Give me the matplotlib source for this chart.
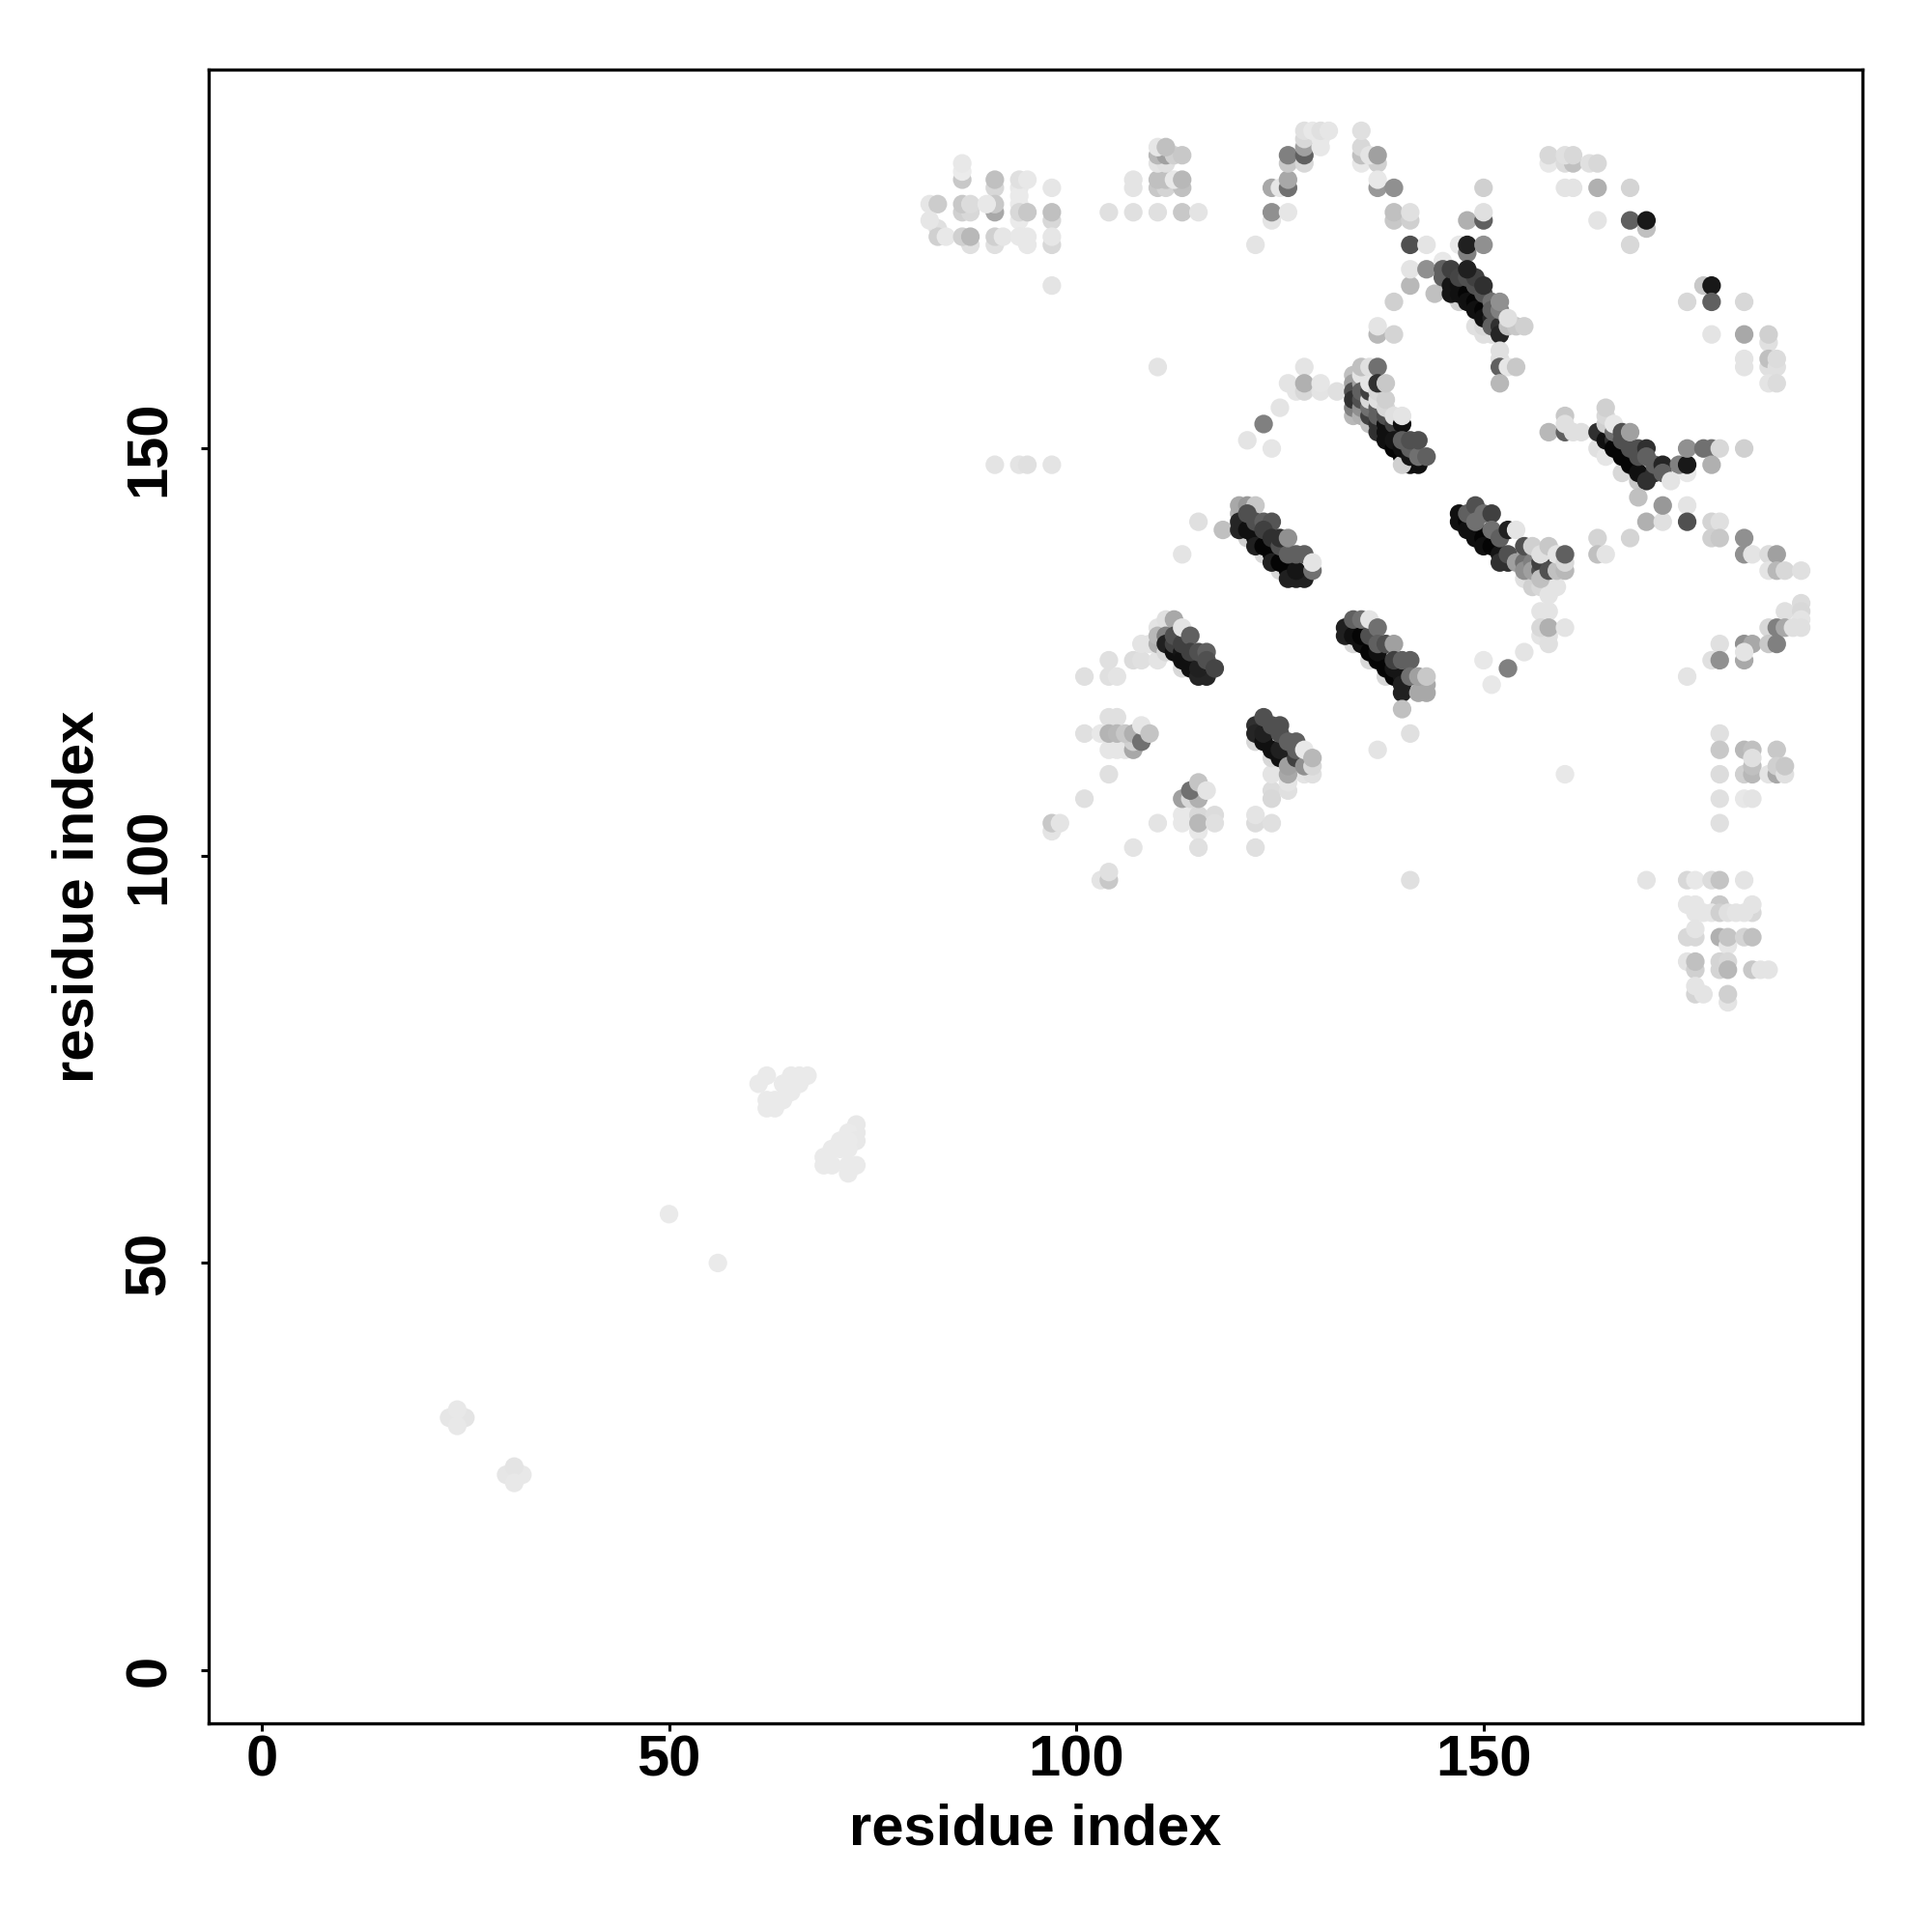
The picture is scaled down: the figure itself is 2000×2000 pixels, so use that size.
import matplotlib
matplotlib.use("Agg")
import matplotlib.pyplot as plt

plt.rcParams["font.family"] = ["Liberation Sans", "DejaVu Sans"]

# (residue x, residue y, grey level as hex), drawn in list order

far_pairs = [
    (24, 31, "ea"), (23, 31, "e6"), (25, 31, "e4"), (24, 32, "e8"), (24, 30, "e8"),
    (31, 24, "ea"), (30, 24, "e6"), (32, 24, "e8"), (31, 25, "e4"), (31, 23, "e8"),
    (50, 56, "ea"), (56, 50, "ea"),
]

cluster_62 = [
    (62, 73, "ea"), (61, 72, "ea"), (62, 70, "ea"), (62, 69, "ea"), (63, 69, "ea"), (63, 70, "ea"),
    (64, 70, "ea"), (65, 71, "ea"), (64, 72, "ea"), (65, 73, "ea"), (66, 73, "ea"), (67, 73, "ea"),
    (66, 72, "ea"), (65, 72, "ea"),
    (73, 67, "e8"), (73, 66, "e8"), (72, 66, "ea"), (73, 65, "e8"), (72, 65, "ea"), (71, 65, "ea"),
    (70, 64, "ea"), (69, 63, "ea"), (69, 62, "ea"), (70, 62, "ea"), (71, 64, "ea"), (72, 64, "ea"),
    (72, 62, "ea"), (73, 62, "ea"), (72, 61, "ea"),
]

top_left_block = [
    (86, 183, "c8"), (86, 184, "eb"), (86, 185, "e8"),
    (90, 182, "d8"), (90, 183, "c0"), (90, 179, "a8"), (90, 180, "c8"),
    (93, 182, "e8"), (93, 181, "ea"), (93, 180, "ea"), (93, 178, "ea"), (93, 179, "d8"),
    (93, 183, "e0"), (94, 183, "e8"), (94, 179, "c8"),
    (97, 182, "e6"), (97, 178, "d8"), (97, 179, "c0"), (97, 175, "d8"), (97, 176, "e6"), (97, 170, "e4"),
    (82, 180, "e6"), (83, 180, "cc"),
    (86, 179, "d0"), (87, 179, "d8"), (86, 180, "c8"), (87, 180, "dc"), (89, 180, "e8"),
    (83, 177, "e0"), (83, 176, "d0"), (84, 176, "e8"), (82, 178, "e6"),
    (87, 175, "e0"), (86, 176, "d0"), (87, 176, "b8"),
    (90, 175, "e0"), (90, 176, "d0"), (91, 176, "e6"),
    (94, 175, "e8"), (93, 176, "e8"), (94, 176, "e8"),
    (90, 148, "e4"), (93, 148, "e4"), (94, 148, "e0"), (97, 148, "e4"),
]

top_mid_block = [
    (104, 179, "e0"), (107, 179, "e0"), (110, 179, "e0"), (113, 179, "c8"), (115, 179, "e4"),
    (107, 182, "e4"), (107, 183, "e4"),
    (110, 182, "c8"), (111, 182, "d4"), (113, 182, "c0"),
    (110, 183, "c0"), (111, 183, "c0"), (112, 183, "e8"), (113, 183, "b8"),
    (110, 185, "e4"), (111, 185, "e0"), (110, 186, "b8"), (111, 186, "a0"), (112, 186, "d0"), (113, 186, "c8"),
    (110, 187, "e6"), (111, 187, "c0"),
    (110, 160, "e4"),
]

top_arc = [
    (122, 175, "e4"), (124, 178, "e4"), (124, 179, "90"), (126, 179, "e6"),
    (124, 182, "a8"), (125, 182, "e6"), (126, 182, "70"), (126, 183, "a8"),
    (126, 185, "c8"), (126, 186, "80"), (128, 185, "d8"), (128, 186, "60"), (128, 187, "a0"),
    (128, 188, "d8"), (128, 189, "e0"),
    (130, 187, "e8"), (130, 188, "e8"), (129, 189, "e8"), (130, 189, "e0"), (131, 189, "e6"),
    (135, 185, "e8"), (135, 186, "c0"), (135, 187, "d8"), (135, 189, "e0"),
    (137, 185, "d0"), (136, 186, "e4"), (137, 186, "a0"),
    (137, 182, "98"), (137, 183, "e8"), (139, 182, "90"),
    (139, 178, "c8"), (139, 179, "c0"), (141, 178, "d0"), (141, 179, "e0"),
    (141, 175, "50"), (143, 175, "e4"), (141, 170, "b8"), (141, 172, "e4"), (143, 172, "90"),
    (144, 169, "c0"), (139, 168, "d0"), (137, 164, "b8"), (137, 165, "e4"), (139, 164, "d4"),
    (150, 182, "d0"), (148, 178, "b0"), (150, 178, "60"), (150, 179, "e0"),
    (147, 175, "e8"), (148, 174, "80"), (148, 175, "20"), (150, 175, "90"),
    (123, 153, "80"), (121, 151, "e4"), (124, 150, "e6"), (125, 155, "e4"), (126, 158, "e4"),
    (127, 157, "e4"), (128, 160, "e4"), (128, 157, "d8"), (128, 158, "b0"),
    (130, 157, "e4"), (130, 158, "e6"), (132, 157, "e0"),
]

band_170 = [
    (145, 172, "c8"), (147, 168, "d0"), (149, 165, "e0"), (150, 164, "e0"), (151, 164, "e0"),
    (150, 165, "d8"), (145, 173, "e8"),
    (145, 171, "60"), (145, 172, "60"), (146, 170, "15"), (146, 169, "15"), (147, 170, "10"),
    (147, 169, "10"), (148, 169, "05"), (148, 168, "10"), (149, 168, "05"), (149, 167, "10"),
    (150, 167, "05"), (150, 166, "10"), (151, 166, "25"), (151, 165, "60"), (152, 165, "30"), (152, 164, "25"),
    (146, 172, "40"), (147, 171, "45"), (148, 171, "50"), (149, 170, "50"), (149, 171, "40"),
    (150, 169, "55"), (151, 168, "70"), (151, 167, "60"), (152, 167, "80"), (148, 172, "20"), (150, 170, "30"),
    (152, 168, "90"), (153, 165, "c0"), (154, 165, "c8"), (155, 165, "d0"), (153, 166, "e0"),
    (152, 162, "e0"), (152, 161, "e0"), (152, 160, "60"), (153, 160, "e6"), (154, 160, "c8"), (152, 158, "b8"),
]

band_150 = [
    (134, 159, "c0"), (134, 158, "a0"), (134, 154, "b8"), (134, 155, "80"), (134, 157, "50"), (134, 156, "30"),
    (135, 154, "b0"), (135, 155, "90"), (135, 158, "a0"), (135, 159, "e4"), (135, 156, "50"), (135, 157, "60"),
    (136, 153, "c0"), (136, 154, "40"), (136, 155, "70"), (136, 156, "d8"), (136, 157, "40"), (136, 158, "e4"),
    (137, 152, "30"), (137, 153, "30"), (137, 154, "60"), (137, 155, "60"), (137, 156, "e0"), (137, 157, "d8"),
    (138, 151, "10"), (138, 152, "10"), (138, 153, "10"), (138, 154, "50"), (138, 155, "d8"), (138, 156, "d0"),
    (139, 150, "05"), (140, 149, "05"), (141, 148, "10"), (142, 148, "10"), (140, 148, "d0"),
    (135, 160, "c0"), (136, 160, "e0"), (137, 160, "70"), (137, 158, "30"), (138, 158, "c8"),
    (139, 153, "40"), (139, 154, "e0"), (140, 153, "10"), (140, 154, "e4"),
    (139, 151, "15"), (140, 150, "10"), (140, 151, "60"), (141, 149, "15"), (141, 150, "60"), (141, 151, "50"),
    (142, 149, "70"), (142, 151, "50"), (143, 149, "60"),
]

right_top_scatter = [
    (158, 185, "e8"), (158, 186, "d8"), (160, 185, "dc"), (161, 185, "c0"), (160, 186, "e0"), (161, 186, "d8"),
    (163, 185, "e0"), (164, 185, "d8"),
    (160, 182, "e4"), (161, 182, "e4"), (164, 182, "b0"), (168, 182, "d4"),
    (164, 178, "e4"), (170, 177, "c0"), (168, 178, "60"), (170, 178, "18"), (168, 175, "d8"),
    (177, 170, "c8"), (178, 170, "18"), (175, 168, "d8"), (178, 168, "60"), (182, 168, "d8"),
    (178, 164, "e4"), (182, 164, "a8"), (185, 163, "e0"), (185, 164, "d0"),
    (182, 161, "e4"), (182, 160, "e4"), (185, 160, "e0"), (185, 161, "c0"), (186, 160, "e0"), (186, 161, "dc"),
    (185, 158, "e4"), (186, 158, "dc"),
]

band_165 = [
    (158, 152, "b8"), (160, 152, "60"), (160, 154, "c8"), (160, 153, "e0"), (161, 152, "e0"), (162, 152, "e0"),
    (164, 150, "e0"), (165, 149, "e6"), (167, 147, "d8"), (169, 146, "c8"),
    (164, 152, "30"), (165, 151, "10"), (166, 151, "30"), (166, 150, "05"), (167, 149, "05"), (168, 148, "05"),
    (169, 147, "10"), (170, 146, "30"), (171, 147, "30"),
    (165, 153, "d0"), (165, 154, "d8"), (165, 155, "d0"), (166, 152, "70"), (166, 153, "e8"),
    (167, 151, "50"), (168, 150, "50"), (167, 152, "50"), (168, 152, "a0"), (169, 149, "50"),
    (169, 150, "50"), (170, 150, "30"), (170, 149, "60"), (171, 148, "60"), (172, 148, "25"),
    (175, 147, "e8"), (174, 148, "80"), (175, 148, "18"), (175, 150, "90"), (177, 150, "70"),
    (178, 150, "70"), (179, 150, "d8"), (182, 150, "d0"), (178, 148, "b0"), (172, 147, "60"), (173, 146, "e4"),
]

band_140 = [
    (120, 142, "b0"), (120, 143, "a8"), (121, 143, "98"), (122, 143, "c8"), (118, 140, "c0"), (115, 141, "e0"),
    (113, 137, "e4"), (121, 139, "d0"), (123, 137, "d8"), (125, 135, "d8"),
    (120, 141, "25"), (120, 140, "25"), (121, 140, "10"), (122, 139, "10"), (122, 138, "20"), (123, 138, "05"),
    (124, 137, "05"), (124, 136, "20"), (125, 136, "05"), (126, 135, "05"), (126, 134, "20"), (127, 134, "20"),
    (128, 134, "20"), (127, 135, "15"),
    (121, 142, "50"), (122, 141, "50"), (123, 141, "60"), (124, 141, "55"), (123, 140, "40"), (124, 139, "30"),
    (125, 138, "50"), (126, 137, "60"), (125, 139, "30"), (126, 139, "90"), (127, 137, "60"), (128, 137, "60"),
    (129, 135, "70"), (129, 136, "e4"),
]

band_125 = [
    (104, 124, "e0"), (101, 122, "e0"), (104, 122, "e0"), (105, 122, "e4"), (107, 124, "dc"), (108, 124, "e0"),
    (110, 124, "e4"), (108, 126, "e4"), (109, 126, "e4"), (110, 128, "e4"), (110, 126, "b0"), (110, 127, "b8"),
    (111, 125, "d8"), (113, 123, "d8"),
    (111, 129, "e0"), (112, 129, "a8"), (111, 127, "80"), (111, 126, "20"), (112, 125, "10"), (112, 126, "40"),
    (113, 125, "15"), (113, 124, "10"), (114, 124, "10"), (114, 123, "10"), (115, 122, "25"), (116, 122, "25"),
    (115, 123, "20"), (112, 127, "50"), (113, 126, "40"), (113, 128, "e4"), (114, 127, "60"), (114, 125, "40"),
    (115, 125, "50"), (116, 125, "60"), (116, 124, "50"), (117, 123, "45"),
]

band_125_right = [
    (134, 126, "d8"), (136, 124, "d8"), (138, 122, "d8"),
    (133, 128, "20"), (133, 127, "20"), (134, 127, "10"), (135, 126, "10"), (135, 127, "05"), (136, 125, "05"),
    (137, 124, "05"), (137, 125, "10"), (138, 123, "05"), (139, 122, "05"), (139, 123, "15"), (140, 122, "15"),
    (140, 121, "20"), (140, 120, "20"),
    (134, 129, "60"), (135, 129, "70"), (136, 127, "50"), (136, 129, "e4"), (137, 128, "70"), (137, 126, "60"),
    (138, 126, "50"), (139, 126, "a0"), (139, 124, "40"), (140, 124, "60"), (141, 124, "60"), (141, 122, "70"),
    (142, 120, "a8"), (143, 120, "a8"), (143, 121, "a8"), (142, 122, "a0"), (143, 122, "c8"),
    (140, 118, "c0"), (141, 115, "e0"), (137, 113, "e4"),
]

band_115 = [
    (124, 108, "dc"), (124, 107, "d8"), (124, 110, "e4"), (126, 108, "e0"), (126, 109, "e4"), (128, 110, "e4"),
    (126, 110, "a8"), (129, 110, "e0"), (122, 114, "d8"), (124, 112, "d8"),
    (122, 116, "30"), (122, 115, "25"), (123, 114, "10"), (123, 115, "20"), (124, 113, "10"), (125, 112, "10"),
    (125, 113, "20"), (126, 111, "a0"), (127, 112, "40"), (128, 111, "90"), (129, 111, "d8"),
    (123, 117, "50"), (124, 116, "50"), (125, 116, "50"), (125, 115, "50"), (126, 114, "60"), (127, 114, "60"),
    (127, 113, "60"), (128, 113, "e8"), (129, 112, "b8"),
]

cluster_105 = [
    (104, 117, "e0"), (105, 117, "e0"), (101, 115, "e0"), (103, 115, "e8"),
    (104, 113, "e6"), (105, 113, "e6"), (106, 113, "e6"), (107, 113, "a8"), (107, 114, "d0"),
    (104, 115, "b4"), (105, 115, "b8"), (106, 115, "c8"), (107, 115, "b0"), (108, 114, "70"),
    (108, 116, "e6"), (109, 115, "c4"),
    (104, 110, "e0"), (101, 107, "e0"), (107, 101, "e4"), (110, 104, "e4"),
    (97, 103, "e4"), (97, 104, "c8"), (98, 104, "e4"),
    (103, 97, "e4"), (104, 97, "c8"), (104, 98, "e0"),
    (113, 104, "e8"), (113, 105, "e8"), (114, 105, "e8"), (115, 103, "e8"), (115, 105, "d8"), (115, 104, "b8"),
    (113, 107, "a0"), (114, 107, "d8"), (115, 107, "b0"), (114, 108, "70"), (115, 109, "c4"), (116, 108, "e4"),
    (115, 101, "e0"), (117, 105, "dc"), (117, 104, "e0"),
    (122, 104, "dc"), (122, 105, "e4"), (124, 104, "e0"), (122, 101, "e0"), (141, 97, "e0"),
]

band_140_right = [
    (150, 124, "e8"), (151, 121, "e8"), (149, 140, "10"),
    (147, 142, "10"), (147, 141, "10"), (148, 141, "05"), (148, 140, "10"), (149, 139, "10"), (150, 139, "05"),
    (150, 138, "10"), (151, 138, "05"), (152, 137, "15"), (152, 136, "30"), (153, 136, "30"),
    (155, 134, "e0"), (156, 133, "d0"), (157, 133, "d8"), (159, 133, "e4"), (158, 132, "e4"),
    (148, 142, "60"), (149, 143, "50"), (149, 141, "70"), (150, 142, "70"), (151, 142, "40"), (151, 140, "70"),
    (152, 139, "60"), (153, 140, "20"), (153, 137, "50"), (154, 140, "e4"),
    (154, 136, "a0"), (155, 136, "70"), (155, 135, "90"), (155, 138, "50"), (156, 136, "80"), (156, 135, "a0"),
    (156, 138, "d0"), (157, 135, "50"), (157, 136, "40"), (157, 134, "c0"), (157, 137, "e0"), (158, 138, "c8"),
    (158, 135, "50"), (159, 135, "c0"), (160, 135, "b8"), (159, 137, "e4"), (160, 136, "d8"), (160, 137, "60"),
    (157, 130, "e4"), (158, 130, "e4"), (157, 127, "e4"), (158, 126, "e0"), (158, 127, "e0"),
    (157, 128, "d8"), (158, 128, "b0"), (160, 128, "e4"),
    (155, 125, "e4"), (153, 123, "80"),
]

right_edge = [
    (164, 139, "d4"), (164, 137, "c0"), (165, 137, "e4"), (168, 139, "d4"), (169, 144, "c0"),
    (170, 141, "b0"), (172, 141, "e0"), (172, 143, "98"), (175, 143, "e4"), (175, 141, "50"),
    (178, 141, "d4"), (179, 141, "e0"), (178, 139, "d0"), (179, 139, "c8"),
    (182, 139, "90"), (182, 137, "90"), (183, 137, "e4"), (185, 137, "dc"), (186, 137, "a0"),
    (185, 135, "e4"), (186, 135, "b8"), (187, 135, "d8"), (189, 135, "e0"),
    (187, 130, "e0"), (189, 131, "dc"), (189, 130, "d8"), (189, 129, "e4"),
    (185, 128, "d8"), (186, 128, "80"), (187, 128, "a8"), (188, 128, "e0"), (189, 128, "e0"),
    (179, 126, "e0"), (182, 126, "90"), (183, 126, "a8"), (185, 126, "c8"), (186, 126, "80"),
    (178, 124, "e0"), (179, 124, "90"), (182, 124, "a8"), (182, 125, "e4"), (175, 122, "e4"),
    (160, 110, "e8"),
    (179, 115, "e0"), (179, 113, "c8"), (182, 113, "b8"), (183, 113, "c0"), (186, 113, "c8"),
    (179, 110, "dc"), (182, 110, "d0"), (183, 110, "b8"), (183, 111, "c0"), (183, 112, "e0"),
    (185, 110, "e4"), (186, 110, "a8"), (186, 111, "d0"), (187, 110, "e0"), (187, 111, "c8"),
    (179, 107, "e0"), (182, 107, "e8"), (183, 107, "e4"), (179, 104, "e0"),
]

bottom_right_block = [
    (170, 97, "e4"), (175, 97, "d8"), (176, 97, "e8"), (178, 97, "dc"), (179, 97, "c4"), (182, 97, "e4"),
    (175, 94, "e6"), (176, 94, "e6"), (179, 94, "c8"), (183, 93, "d8"), (183, 94, "e4"),
    (176, 93, "e6"), (177, 93, "e6"), (178, 93, "e6"), (179, 93, "d0"), (180, 93, "e0"), (181, 93, "e4"), (182, 93, "e4"),
    (175, 90, "d8"), (176, 90, "d8"), (176, 91, "e4"), (179, 90, "b0"), (180, 89, "e6"), (180, 90, "c4"),
    (182, 90, "d4"), (183, 90, "c0"),
    (175, 87, "e4"), (176, 86, "d0"), (176, 87, "c0"), (179, 87, "d4"), (179, 86, "d4"), (180, 87, "d8"), (180, 86, "b8"),
    (183, 86, "c8"), (184, 86, "e4"), (185, 86, "e4"),
    (176, 83, "d4"), (177, 83, "e4"), (176, 84, "e4"), (180, 82, "e4"), (180, 83, "d0"),
]

x_ticks = [0, 50, 100, 150]
y_ticks = [0, 50, 100, 150]
axis_label = "residue index"

all_points = (far_pairs + cluster_62 + top_left_block + top_mid_block + top_arc + band_170 + band_150
              + right_top_scatter + band_165 + band_140 + band_125 + band_125_right + band_115
              + cluster_105 + band_140_right + right_edge + bottom_right_block)

xs = [p[0] for p in all_points]
ys = [p[1] for p in all_points]
colors = ["#" + p[2] * 3 for p in all_points]

fig = plt.figure(figsize=(10, 10), dpi=200)
ax = fig.add_axes([216 / 2000, 1 - 1784 / 2000, (1928 - 216) / 2000, (1784 - 72) / 2000])

ax.scatter(xs, ys, c=colors, s=48, linewidths=0, zorder=3)

ax.set_xlim(-6.52, 196.52)
ax.set_ylim(-6.52, 196.52)

ax.set_xticks(x_ticks)
ax.set_yticks(y_ticks)
ax.tick_params(axis="both", direction="out", length=3, width=1.1, labelsize=21.5)
ax.tick_params(axis="x", pad=1)
ax.tick_params(axis="y", pad=9)
plt.setp(ax.get_xticklabels(), fontweight="bold")
plt.setp(ax.get_yticklabels(), fontweight="bold", rotation=90, va="center")

ax.set_xlabel(axis_label, fontsize=21.5, fontweight="bold", labelpad=6)
ax.set_ylabel(axis_label, fontsize=21.5, fontweight="bold", labelpad=7)

for spine in ax.spines.values():
    spine.set_linewidth(1.2)

fig.savefig("out.png", dpi=200, facecolor="white")
